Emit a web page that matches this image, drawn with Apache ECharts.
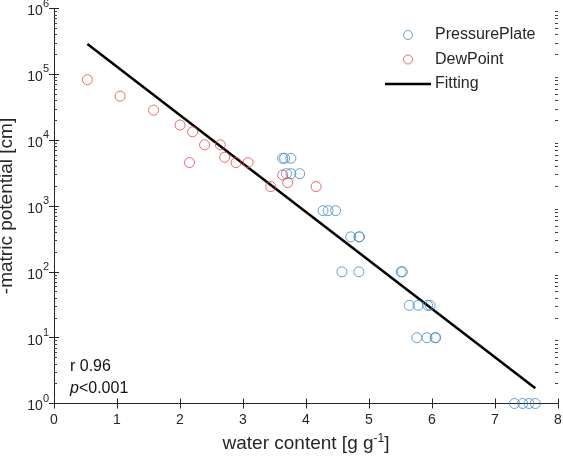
<!DOCTYPE html>
<html><head><meta charset="utf-8">
<script src="https://cdn.jsdelivr.net/npm/echarts@6/dist/echarts.min.js"></script>
<style>html,body{margin:0;padding:0;background:#fff}#c{width:563px;height:461px}</style>
</head><body><div id="c"></div>
<script>
const pressureX = [3.63,3.66,3.76, 3.69,3.76,3.90, 4.27,4.35,4.47, 4.71,4.84,4.85, 4.57,4.84, 5.51,5.53, 5.64,5.78,5.93,5.97, 5.76,5.92,6.05,6.06, 7.31,7.44,7.54,7.64];
const pressureY = [5300,5300,5300, 3100,3100,3100, 850,850,850, 340,340,340, 100,100, 100,100, 31,31,31,31, 10,10,10,10, 1,1,1,1];
const dewX = [0.53,1.05,1.58,2.00,2.20,2.39,2.64,2.15,2.71,2.89,3.08,3.44,3.63,3.71,4.16];
const dewY = [83000,46600,28600,17000,13400,8500,8500,4570,5500,4570,4570,1970,2960,2270,1970];
const fitX = [0.53, 7.64];
const fitY = [290000, 1.7];
const xTicks = [0,1,2,3,4,5,6,7,8];
const minorMantissas = [2,3,4,5,6,7,8,9];
const decades = [0,1,2,3,4,5];
const stats = ['r 0.96', 'p<0.001'];

// decorative minor tick positions (in decades) for a log axis
const yMinorTicks = [];
decades.forEach(e => minorMantissas.forEach(m => yMinorTicks.push(e + Math.log10(m))));

const font = 'Liberation Sans, Arial, sans-serif';
const txt = '#262626';
const chart = echarts.init(document.getElementById('c'), null, {renderer:'canvas'});
const zip = (a,b)=>a.map((v,i)=>[v,b[i]]);
const axisLine = {show:true, lineStyle:{color:'#262626', width:1}};
const tick = {show:true, inside:true, length:5, lineStyle:{color:'#262626'}};
const minorTick = {show:true, inside:true, length:3, customValues:yMinorTicks, lineStyle:{color:'#404040'}};
chart.setOption({
  animation:false,
  grid:{left:54, right:5, top:8.5, bottom:57.5, containLabel:false, outerBoundsMode:'none'},
  legend:{
    left:385, top:27, padding:0, orient:'vertical', itemGap:8.5, itemWidth:46, itemHeight:9,
    textStyle:{fontFamily:font, fontSize:16, color:txt, lineHeight:16, padding:[0,0,0,-1]},
    data:[
      {name:'PressurePlate', icon:'circle', itemStyle:{color:'transparent', borderColor:'#3F8AC9', borderWidth:1}},
      {name:'DewPoint', icon:'circle', itemStyle:{color:'transparent', borderColor:'#E8454B', borderWidth:1}},
      {name:'Fitting', icon:'path://M0,0H46V2.6H0Z', itemStyle:{color:'#000', borderWidth:0}}
    ]
  },
  xAxis:[{
    type:'value', min:0, max:8, interval:1,
    name:'water content [g g{sup|-1}]', nameLocation:'middle', nameGap:29,
    nameTextStyle:{fontFamily:font, fontSize:19, color:txt, rich:{sup:{fontSize:12, verticalAlign:'bottom', padding:[0,0,11,0], color:txt, fontFamily:font}}},
    axisLine:axisLine, axisTick:tick,
    axisLabel:{fontFamily:font, fontSize:14, color:txt, margin:10},
    splitLine:{show:false}
  },{
    type:'value', min:0, max:8, interval:1, position:'top',
    axisLine:axisLine, axisTick:tick,
    axisLabel:{show:false}, splitLine:{show:false}
  }],
  yAxis:[{
    type:'log', logBase:10, min:1, max:1e6,
    name:'-matric potential [cm]', nameLocation:'middle', nameGap:32, nameRotate:90,
    nameTextStyle:{fontFamily:font, fontSize:19, color:txt},
    axisLine:axisLine, axisTick:tick,
    axisLabel:{margin:5, formatter:v=>'{b|10}{s|'+Math.round(Math.log10(v))+'}',
      rich:{b:{fontFamily:font, fontSize:14, color:txt, padding:[6,0,0,0]}, s:{fontFamily:font, fontSize:11, color:txt, verticalAlign:'bottom', padding:[0,0,10,0]}}},
    splitLine:{show:false}
  },{
    type:'log', logBase:10, min:1, max:1e6, position:'right',
    axisLine:axisLine, axisTick:tick,
    axisLabel:{show:false}, splitLine:{show:false}
  },{
    type:'value', min:0, max:6, position:'left',
    axisLine:{show:false}, axisTick:minorTick,
    axisLabel:{show:false}, splitLine:{show:false}
  },{
    type:'value', min:0, max:6, position:'right',
    axisLine:{show:false}, axisTick:minorTick,
    axisLabel:{show:false}, splitLine:{show:false}
  }],
  series:[
    {name:'PressurePlate', type:'scatter', symbol:'circle', symbolSize:10, data:zip(pressureX,pressureY),
     itemStyle:{color:'transparent', borderColor:'#3F8AC9', borderWidth:1}, z:3},
    {name:'DewPoint', type:'scatter', symbol:'circle', symbolSize:10, data:zip(dewX,dewY),
     itemStyle:{color:'transparent', borderColor:'#E8454B', borderWidth:1}, z:3},
    {name:'Fitting', type:'line', data:zip(fitX,fitY), symbol:'none', showSymbol:false,
     lineStyle:{color:'#000', width:2.5}, itemStyle:{color:'#000'}, z:2}
  ],
  graphic:[
    {type:'text', left:70, top:359, style:{text:stats[0], font:'16px '+font, fill:'#111'}},
    {type:'text', left:70, top:381, style:{text:'{i|p}<0.001', rich:{i:{fontStyle:'italic', fontFamily:font, fontSize:16, fill:'#111'}}, font:'16px '+font, fill:'#111'}}
  ]
});
</script></body></html>
